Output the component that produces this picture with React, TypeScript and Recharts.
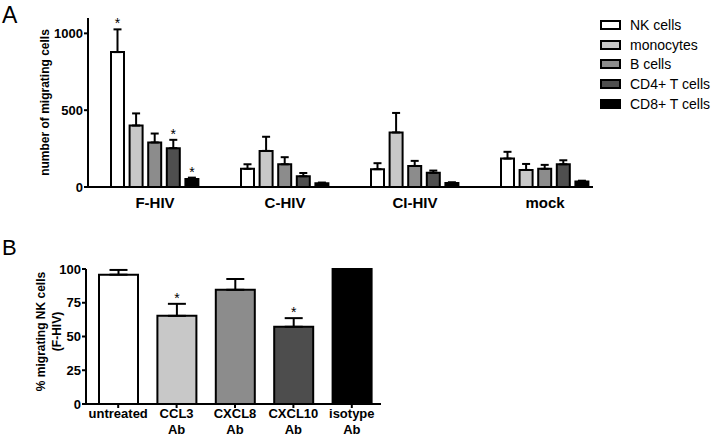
import { Bar, BarChart, Cell, ErrorBar, LabelList, Legend, XAxis, YAxis } from 'recharts'

const font = '"Liberation Sans", Arial, sans-serif'

// panel A
const groups = ['F-HIV', 'C-HIV', 'CI-HIV', 'mock']
const nkCells = [878, 118, 116, 185]
const nkErr = [148, 30, 39, 44]
const nkSig = [true, false, false, false]
const monocytes = [400, 235, 355, 111]
const monoErr = [79, 92, 127, 39]
const bCells = [290, 148, 137, 118]
const bErr = [58, 46, 33, 26]
const cd4Cells = [253, 70, 92, 148]
const cd4Err = [54, 21, 15, 26]
const cd4Sig = [true, false, false, false]
const cd8Cells = [52, 24, 26, 35]
const cd8Err = [9, 5, 5, 6]
const cd8Sig = [true, false, false, false]
const ticksA = [0, 500, 1000]

// panel B
const treatments = ['untreated', 'CCL3 Ab', 'CXCL8 Ab', 'CXCL10 Ab', 'isotype Ab']
const migrating = [95.8, 65.3, 84.6, 57.2, 100]
const migratingErr = [3.5, 8.9, 8, 6.4, 0]
const migratingSig = [false, true, false, true, false]
const ticksB = [0, 25, 50, 75, 100]

const noSig = [false, false, false, false]

const seriesA = [
  { key: 'nk', name: 'NK cells', color: '#ffffff', values: nkCells, err: nkErr, sig: nkSig },
  { key: 'mono', name: 'monocytes', color: '#c8c8c8', values: monocytes, err: monoErr, sig: noSig },
  { key: 'b', name: 'B cells', color: '#8c8c8c', values: bCells, err: bErr, sig: noSig },
  { key: 'cd4', name: 'CD4+ T cells', color: '#4f4f4f', values: cd4Cells, err: cd4Err, sig: cd4Sig },
  { key: 'cd8', name: 'CD8+ T cells', color: '#000000', values: cd8Cells, err: cd8Err, sig: cd8Sig },
]
const colorsB = ['#ffffff', '#c8c8c8', '#8c8c8c', '#4d4d4d', '#000000']

const dataA = groups.map((g, i) => {
  const row: any = { name: g }
  seriesA.forEach((s) => {
    row[s.key] = s.values[i]
    row[s.key + 'Err'] = [0, s.err[i]]
  })
  return row
})

const dataB = treatments.map((t, i) => ({
  name: t,
  value: migrating[i],
  err: [0, migratingErr[i]],
}))

// asterisk placed just above the error bar
const star = (err: number[], sig: boolean[]) => (p: any) => {
  const vb = p.viewBox ?? p
  const x = vb.x ?? p.x
  const y = vb.y ?? p.y
  const w = vb.width ?? p.width
  const h = Math.abs(vb.height ?? p.height)
  const idx = p.index
  if (!sig[idx]) return null
  const top = y - (err[idx] * h) / p.value
  return (
    <text x={x + w / 2} y={top - 1} textAnchor="middle" fontSize={14} fontFamily={font} fill="#000">
      *
    </text>
  )
}

const groupTick = (p: any) => (
  <text x={p.x} y={p.y} dy={21} textAnchor="middle" fontSize={15} fontWeight="bold" fontFamily={font} fill="#000">
    {p.payload.value}
  </text>
)

const treatmentTick = (p: any) => {
  const lines = String(p.payload.value).split(' ')
  return (
    <text x={p.x} y={p.y} textAnchor="middle" fontSize={13} fontWeight="bold" fontFamily={font} fill="#000">
      {lines.map((l, i) => (
        <tspan key={i} x={p.x} dy={i === 0 ? 10 : 16}>
          {l}
        </tspan>
      ))}
    </text>
  )
}

const legendA = () => (
  <div style={{ fontFamily: font, fontSize: 14, color: '#000' }}>
    {seriesA.map((s) => (
      <div key={s.key} style={{ display: 'flex', alignItems: 'center', height: 19.7 }}>
        <span
          style={{ width: 17, height: 6, border: '2px solid #000', background: s.color, marginRight: 9 }}
        />
        {s.name}
      </div>
    ))}
  </div>
)

const yTick = { fontSize: 13, fontWeight: 'bold', fill: '#000', fontFamily: font }
const axisStroke = { stroke: '#000', strokeWidth: 2 }

export default function App() {
  return (
    <div style={{ position: 'absolute', left: 0, top: 0, width: 713, height: 438, background: '#fff' }}>
      <svg width={713} height={438} style={{ position: 'absolute', left: 0, top: 0 }}>
        <text x={2} y={23} fontSize={23} fontFamily={font} fill="#000">A</text>
        <text x={2} y={255} fontSize={22} fontFamily={font} fill="#000">B</text>
      </svg>

      <div style={{ position: 'absolute', left: 0, top: 0 }}>
        <BarChart
          width={713}
          height={225}
          data={dataA}
          margin={{ top: 18, right: 103, bottom: 0, left: 48 }}
          barSize={13}
          barGap={5.6}
        >
          <XAxis
            dataKey="name"
            height={38}
            padding={{ left: 2, right: 0 }}
            tickLine={false}
            tickSize={0}
            tickMargin={0}
            axisLine={{ ...axisStroke, strokeDasharray: '505 1000' }}
            tick={groupTick}
            interval={0}
          />
          <YAxis
            width={40}
            domain={[0, 1100]}
            ticks={ticksA}
            tickSize={4}
            tickMargin={1}
            axisLine={axisStroke}
            tickLine={axisStroke}
            tick={yTick}
            label={(p: any) => {
              const vb = p.viewBox
              const cx = vb.x + 1
              const cy = vb.y + vb.height / 2
              return (
                <text
                  x={cx}
                  y={cy}
                  transform={`rotate(-90, ${cx}, ${cy})`}
                  textAnchor="middle"
                  fontSize={12}
                  fontWeight="bold"
                  fontFamily={font}
                  fill="#000"
                >
                  number of migrating cells
                </text>
              )
            }}
          />
          <Legend
            layout="vertical"
            align="center"
            verticalAlign="middle"
            content={legendA}
            wrapperStyle={{ position: 'absolute', top: 15, left: 600, width: 113 }}
          />
          {seriesA.map((s) => (
            <Bar
              key={s.key}
              dataKey={s.key}
              name={s.name}
              fill={s.color}
              stroke="#000"
              strokeWidth={2}
              isAnimationActive={false}
            >
              <ErrorBar dataKey={s.key + 'Err'} width={4} stroke="#000" strokeWidth={2} direction="y" />
              <LabelList dataKey={s.key} content={star(s.err, s.sig)} />
            </Bar>
          ))}
        </BarChart>
      </div>

      <div style={{ position: 'absolute', left: 0, top: 230 }}>
        <BarChart
          width={400}
          height={208}
          data={dataB}
          margin={{ top: 39, right: 19, bottom: 0, left: 46 }}
          barSize={39}
        >
          <XAxis
            dataKey="name"
            height={34}
            padding={{ left: 3, right: 0 }}
            tickSize={4}
            tickMargin={0}
            axisLine={axisStroke}
            tickLine={axisStroke}
            tick={treatmentTick}
            interval={0}
          />
          <YAxis
            width={40}
            domain={[0, 100]}
            ticks={ticksB}
            tickSize={4}
            tickMargin={1}
            axisLine={axisStroke}
            tickLine={axisStroke}
            tick={yTick}
            label={(p: any) => {
              const vb = p.viewBox
              const cx = vb.x - 1
              const cy = vb.y + vb.height / 2 - 5
              return (
                <text
                  x={cx}
                  y={cy}
                  transform={`rotate(-90, ${cx}, ${cy})`}
                  textAnchor="middle"
                  fontSize={12}
                  fontWeight="bold"
                  fontFamily={font}
                  fill="#000"
                >
                  <tspan x={cx} dy={0}>% migrating NK cells</tspan>
                  <tspan x={cx} dy={16}>(F-HIV)</tspan>
                </text>
              )
            }}
          />
          <Bar dataKey="value" stroke="#000" strokeWidth={2} isAnimationActive={false}>
            {dataB.map((d, i) => (
              <Cell key={d.name} fill={colorsB[i]} />
            ))}
            <ErrorBar dataKey="err" width={9} stroke="#000" strokeWidth={2} direction="y" />
            <LabelList dataKey="value" content={star(migratingErr, migratingSig)} />
          </Bar>
        </BarChart>
      </div>
    </div>
  )
}
